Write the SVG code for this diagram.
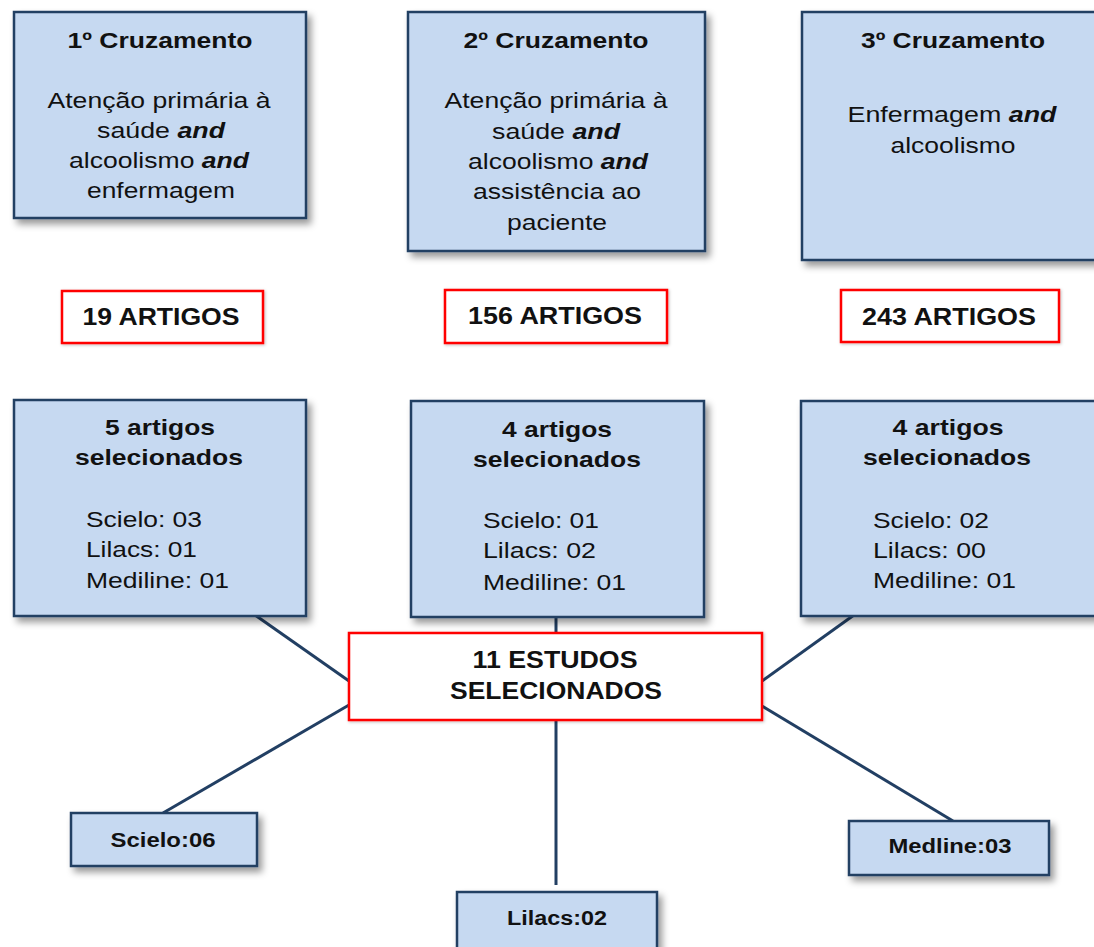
<svg xmlns="http://www.w3.org/2000/svg" width="1094" height="947" viewBox="0 0 1094 947">
<style>
text{font-family:"Liberation Sans",Arial,sans-serif;fill:#111}
.box{fill:#c6d9f1;stroke:#223f63;stroke-width:2.5;filter:url(#sh)}
.red{fill:#fff;stroke:#ff0000;stroke-width:2.5;filter:url(#sh2)}
.t{font-size:22px;font-weight:bold;text-anchor:middle}
.b{font-size:21.5px;text-anchor:middle}
.l{font-size:21.5px}
.k{font-size:24px;font-weight:bold;text-anchor:middle}
.s{font-size:20px;font-weight:bold;text-anchor:middle}
.a{font-weight:bold;font-style:italic}
.c{stroke:#223f63;stroke-width:3;fill:none}
</style>
<defs>
<filter id="sh" x="-10%" y="-10%" width="130%" height="140%">
<feDropShadow dx="4" dy="5" stdDeviation="3.5" flood-color="#000" flood-opacity="0.4"/>
</filter>
<filter id="sh2" x="-10%" y="-10%" width="130%" height="140%">
<feDropShadow dx="1" dy="1" stdDeviation="1.5" flood-color="#000" flood-opacity="0.25"/>
</filter>
</defs>
<rect width="1094" height="947" fill="#fff"/>
<g id="connectors">
<line class="c" x1="255" y1="615" x2="349" y2="681"/>
<line class="c" x1="349" y1="705" x2="163" y2="813"/>
<line class="c" x1="556" y1="616" x2="556" y2="634"/>
<line class="c" x1="556" y1="719" x2="556" y2="885"/>
<line class="c" x1="854" y1="615" x2="762" y2="681"/>
<line class="c" x1="762" y1="706" x2="953" y2="821"/>
</g>
<g id="n1">
<rect class="box" x="14" y="12" width="292" height="206"/>
<text class="t" x="160" y="48" textLength="185" lengthAdjust="spacingAndGlyphs">1º Cruzamento</text>
<text class="b" x="159" y="108" textLength="223" lengthAdjust="spacingAndGlyphs">Atenção primária à</text>
<text class="b" x="161" y="138" textLength="128" lengthAdjust="spacingAndGlyphs">saúde <tspan class="a">and</tspan></text>
<text class="b" x="159" y="168" textLength="180" lengthAdjust="spacingAndGlyphs">alcoolismo <tspan class="a">and</tspan></text>
<text class="b" x="161" y="198" textLength="148" lengthAdjust="spacingAndGlyphs">enfermagem</text>
</g>
<g id="n2">
<rect class="box" x="408" y="12" width="297" height="239"/>
<text class="t" x="556" y="48" textLength="185" lengthAdjust="spacingAndGlyphs">2º Cruzamento</text>
<text class="b" x="556" y="108" textLength="223" lengthAdjust="spacingAndGlyphs">Atenção primária à</text>
<text class="b" x="556" y="139" textLength="128" lengthAdjust="spacingAndGlyphs">saúde <tspan class="a">and</tspan></text>
<text class="b" x="558" y="169" textLength="180" lengthAdjust="spacingAndGlyphs">alcoolismo <tspan class="a">and</tspan></text>
<text class="b" x="557" y="199" textLength="168" lengthAdjust="spacingAndGlyphs">assistência ao</text>
<text class="b" x="557" y="230" textLength="100" lengthAdjust="spacingAndGlyphs">paciente</text>
</g>
<g id="n3">
<rect class="box" x="802" y="12" width="300" height="248"/>
<text class="t" x="953" y="48" textLength="184" lengthAdjust="spacingAndGlyphs">3º Cruzamento</text>
<text class="b" x="952" y="122" textLength="209" lengthAdjust="spacingAndGlyphs">Enfermagem <tspan class="a">and</tspan></text>
<text class="b" x="953" y="153" textLength="125" lengthAdjust="spacingAndGlyphs">alcoolismo</text>
</g>
<g id="r1">
<rect class="red" x="62" y="291" width="201" height="52"/>
<text class="k" x="161" y="325" textLength="157" lengthAdjust="spacingAndGlyphs">19 ARTIGOS</text>
</g>
<g id="r2">
<rect class="red" x="445" y="290" width="222" height="53"/>
<text class="k" x="555" y="324" textLength="174" lengthAdjust="spacingAndGlyphs">156 ARTIGOS</text>
</g>
<g id="r3">
<rect class="red" x="841" y="290" width="218" height="52"/>
<text class="k" x="949" y="325" textLength="174" lengthAdjust="spacingAndGlyphs">243 ARTIGOS</text>
</g>
<g id="n4">
<rect class="box" x="14" y="400" width="292" height="216"/>
<text class="t" x="160" y="435" textLength="110" lengthAdjust="spacingAndGlyphs">5 artigos</text>
<text class="t" x="159" y="465" textLength="168" lengthAdjust="spacingAndGlyphs">selecionados</text>
<text class="l" x="86" y="527" textLength="116" lengthAdjust="spacingAndGlyphs">Scielo: 03</text>
<text class="l" x="86" y="557" textLength="111" lengthAdjust="spacingAndGlyphs">Lilacs: 01</text>
<text class="l" x="86" y="588" textLength="143" lengthAdjust="spacingAndGlyphs">Mediline: 01</text>
</g>
<g id="n5">
<rect class="box" x="411" y="401" width="293" height="216"/>
<text class="t" x="557" y="437" textLength="110" lengthAdjust="spacingAndGlyphs">4 artigos</text>
<text class="t" x="557" y="467" textLength="168" lengthAdjust="spacingAndGlyphs">selecionados</text>
<text class="l" x="483" y="528" textLength="116" lengthAdjust="spacingAndGlyphs">Scielo: 01</text>
<text class="l" x="483" y="558" textLength="113" lengthAdjust="spacingAndGlyphs">Lilacs: 02</text>
<text class="l" x="483" y="590" textLength="143" lengthAdjust="spacingAndGlyphs">Mediline: 01</text>
</g>
<g id="n6">
<rect class="box" x="801" y="401" width="300" height="215"/>
<text class="t" x="948" y="435" textLength="111" lengthAdjust="spacingAndGlyphs">4 artigos</text>
<text class="t" x="947" y="465" textLength="168" lengthAdjust="spacingAndGlyphs">selecionados</text>
<text class="l" x="873" y="528" textLength="116" lengthAdjust="spacingAndGlyphs">Scielo: 02</text>
<text class="l" x="873" y="558" textLength="113" lengthAdjust="spacingAndGlyphs">Lilacs: 00</text>
<text class="l" x="873" y="588" textLength="143" lengthAdjust="spacingAndGlyphs">Mediline: 01</text>
</g>
<g id="center">
<rect class="red" x="349" y="633" width="413" height="87"/>
<text class="k" x="555" y="668" textLength="165" lengthAdjust="spacingAndGlyphs">11 ESTUDOS</text>
<text class="k" x="556" y="699" textLength="212" lengthAdjust="spacingAndGlyphs">SELECIONADOS</text>
</g>
<g id="scielo">
<rect class="box" x="71" y="813" width="186" height="53"/>
<text class="s" x="163" y="847" textLength="105" lengthAdjust="spacingAndGlyphs">Scielo:06</text>
</g>
<g id="lilacs">
<rect class="box" x="457" y="892" width="200" height="70"/>
<text class="s" x="557" y="925" textLength="100" lengthAdjust="spacingAndGlyphs">Lilacs:02</text>
</g>
<g id="medline">
<rect class="box" x="849" y="821" width="200" height="54"/>
<text class="s" x="950" y="853" textLength="123" lengthAdjust="spacingAndGlyphs">Medline:03</text>
</g>
</svg>
